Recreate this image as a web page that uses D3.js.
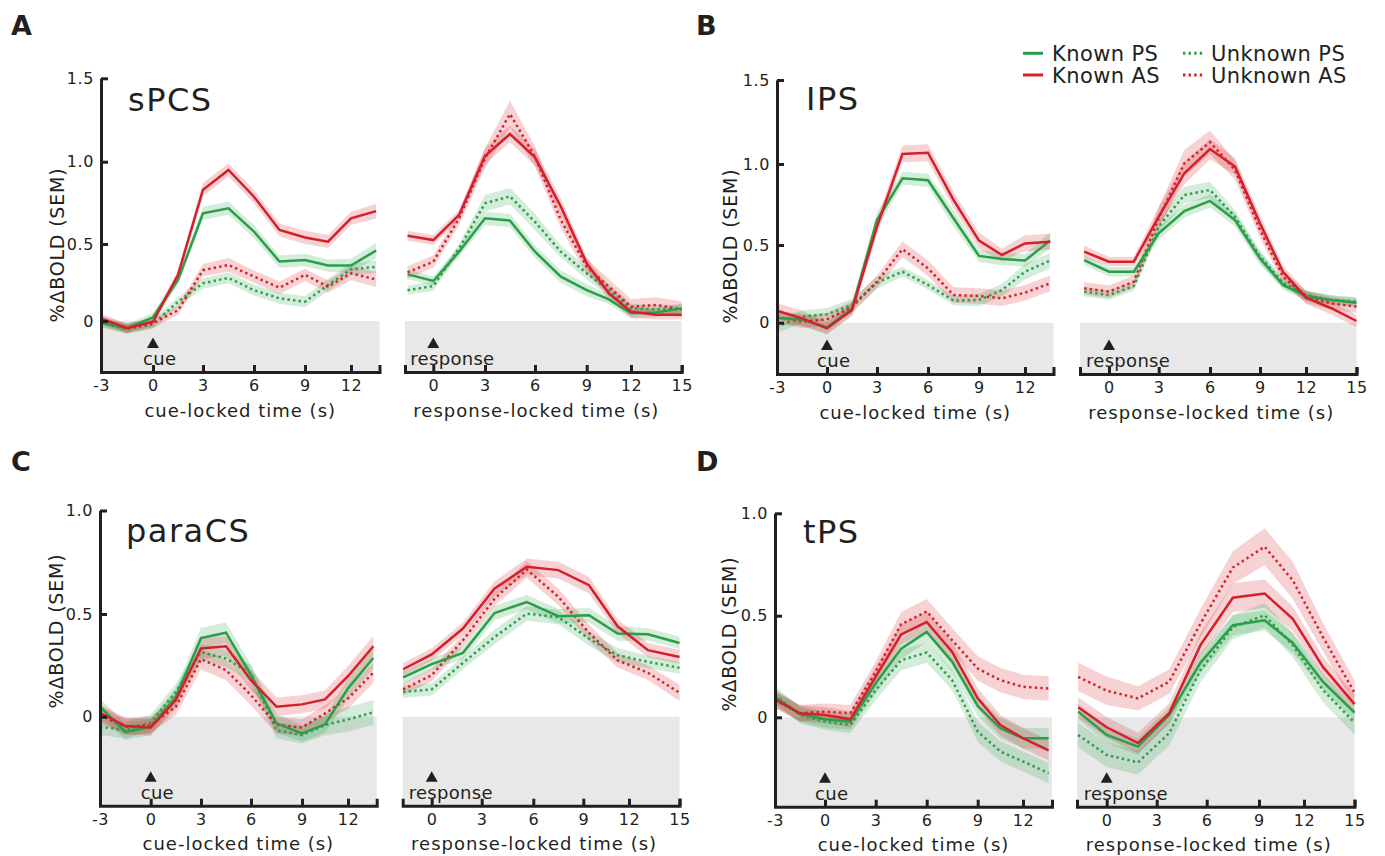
<!DOCTYPE html>
<html><head><meta charset="utf-8">
<script src="https://cdn.jsdelivr.net/npm/d3@7"></script>
<style>
body{margin:0;background:#fff}
svg{display:block}
text{font-family:"DejaVu Sans",Verdana,sans-serif;fill:#231f20}
</style>
</head><body>
<svg id="chart" width="1385" height="856"></svg>
<script>
// ---------- time bases & ticks ----------
const cueTimes   = [-3,-1.5,0,1.5,3,4.5,6,7.5,9,10.5,12,13.5];
const respTimes1 = [-1.5,0,1.5,3,4.5,6,7.5,9,10.5,12,13.5,15];
const respTimes2 = [-1.875,0,1.875,3.75,5.625,7.5,9.375,11.25,13.125,15];
const cueTicks   = [-3,0,3,6,9,12];
const respTicks  = [0,3,6,9,12,15];
const yTicksRow1 = [0,0.5,1.0,1.5];
const yTicksRow2 = [0,0.5,1.0];
const regionNames  = ["sPCS","IPS","paraCS","tPS"];
const panelLetters = ["A","B","C","D"];
const conditionNames = ["Known PS","Known AS","Unknown PS","Unknown AS"];

// ---------- sPCS ----------
const sPCS_cue_KPS = [-0.01,-0.047,0.024,0.266,0.686,0.717,0.575,0.386,0.396,0.36,0.36,0.458];
const sPCS_cue_KAS = [0.017,-0.047,-0.005,0.30,0.83,0.95,0.787,0.585,0.54,0.514,0.656,0.70];
const sPCS_cue_UPS = [-0.01,-0.054,-0.02,0.125,0.245,0.28,0.20,0.147,0.125,0.234,0.335,0.352];
const sPCS_cue_UAS = [0.006,-0.047,-0.015,0.07,0.33,0.364,0.288,0.216,0.30,0.223,0.31,0.27];
const sPCS_cue_KPS_sem = [0.03,0.03,0.03,0.03,0.04,0.04,0.04,0.04,0.04,0.04,0.045,0.05];
const sPCS_cue_KAS_sem = [0.03,0.03,0.03,0.03,0.04,0.04,0.04,0.04,0.04,0.04,0.04,0.045];
const sPCS_cue_UPS_sem = [0.03,0.03,0.03,0.03,0.035,0.035,0.035,0.035,0.035,0.04,0.04,0.04];
const sPCS_cue_UAS_sem = [0.03,0.03,0.03,0.03,0.04,0.045,0.04,0.04,0.04,0.04,0.045,0.05];
const sPCS_resp_KPS = [0.303,0.26,0.45,0.656,0.642,0.45,0.288,0.20,0.14,0.05,0.056,0.082];
const sPCS_resp_KAS = [0.55,0.524,0.677,1.034,1.166,1.026,0.727,0.375,0.18,0.06,0.04,0.04];
const sPCS_resp_UPS = [0.20,0.227,0.472,0.747,0.79,0.634,0.45,0.31,0.20,0.082,0.076,0.076];
const sPCS_resp_UAS = [0.316,0.385,0.656,1.02,1.286,1.03,0.645,0.353,0.223,0.093,0.104,0.076];
const sPCS_resp_KPS_sem = [0.03,0.03,0.03,0.04,0.04,0.04,0.04,0.04,0.03,0.03,0.03,0.03];
const sPCS_resp_KAS_sem = [0.03,0.03,0.03,0.05,0.05,0.05,0.05,0.04,0.04,0.04,0.03,0.03];
const sPCS_resp_UPS_sem = [0.03,0.03,0.03,0.05,0.05,0.05,0.04,0.04,0.04,0.03,0.03,0.03];
const sPCS_resp_UAS_sem = [0.04,0.04,0.04,0.06,0.08,0.06,0.05,0.05,0.05,0.05,0.05,0.05];

// ---------- IPS ----------
const IPS_cue_KPS = [0.03,0.02,-0.03,0.09,0.654,0.912,0.90,0.665,0.43,0.41,0.40,0.527];
const IPS_cue_KAS = [0.077,0.028,-0.036,0.082,0.613,1.06,1.067,0.778,0.527,0.436,0.51,0.52];
const IPS_cue_UPS = [-0.026,0.04,0.054,0.114,0.257,0.328,0.243,0.142,0.146,0.21,0.328,0.40];
const IPS_cue_UAS = [0.04,0.006,0.022,0.10,0.264,0.473,0.35,0.178,0.172,0.157,0.193,0.253];
const IPS_cue_KPS_sem = [0.04,0.04,0.04,0.04,0.05,0.04,0.04,0.05,0.04,0.04,0.04,0.05];
const IPS_cue_KAS_sem = [0.05,0.05,0.04,0.04,0.05,0.05,0.05,0.05,0.05,0.04,0.05,0.05];
const IPS_cue_UPS_sem = [0.04,0.04,0.04,0.04,0.04,0.03,0.03,0.03,0.04,0.04,0.05,0.05];
const IPS_cue_UAS_sem = [0.04,0.04,0.04,0.04,0.04,0.05,0.05,0.05,0.05,0.05,0.05,0.05];
const IPS_resp_KPS = [0.403,0.328,0.328,0.572,0.71,0.772,0.654,0.414,0.243,0.172,0.146,0.129];
const IPS_resp_KAS = [0.457,0.393,0.393,0.675,0.943,1.089,0.984,0.634,0.328,0.161,0.093,0.011];
const IPS_resp_UPS = [0.20,0.178,0.236,0.613,0.809,0.84,0.675,0.425,0.257,0.178,0.146,0.135];
const IPS_resp_UAS = [0.221,0.20,0.264,0.665,1.004,1.13,0.963,0.593,0.296,0.167,0.125,0.103];
const IPS_resp_KPS_sem = [0.03,0.03,0.03,0.04,0.04,0.04,0.04,0.04,0.03,0.03,0.03,0.03];
const IPS_resp_KAS_sem = [0.04,0.03,0.03,0.06,0.07,0.06,0.05,0.05,0.04,0.04,0.04,0.04];
const IPS_resp_UPS_sem = [0.03,0.03,0.03,0.04,0.05,0.05,0.04,0.04,0.03,0.03,0.03,0.03];
const IPS_resp_UAS_sem = [0.04,0.04,0.04,0.07,0.08,0.07,0.06,0.05,0.04,0.04,0.04,0.04];

// ---------- paraCS ----------
const paraCS_cue_KPS = [0.049,-0.073,-0.049,0.097,0.383,0.409,0.202,-0.032,-0.081,-0.037,0.138,0.286];
const paraCS_cue_KAS = [0.019,-0.045,-0.052,0.081,0.332,0.343,0.178,0.049,0.06,0.084,0.197,0.343];
const paraCS_cue_UPS = [-0.049,-0.065,-0.029,0.121,0.314,0.283,0.21,-0.065,-0.089,-0.04,-0.013,0.021];
const paraCS_cue_UAS = [0.008,-0.049,-0.04,0.049,0.28,0.227,0.105,-0.04,-0.052,0.016,0.089,0.214];
const paraCS_cue_KPS_sem = [0.04,0.04,0.04,0.04,0.05,0.05,0.05,0.045,0.04,0.04,0.05,0.05];
const paraCS_cue_KAS_sem = [0.04,0.04,0.04,0.04,0.05,0.05,0.05,0.045,0.045,0.045,0.05,0.05];
const paraCS_cue_UPS_sem = [0.04,0.04,0.04,0.04,0.04,0.04,0.04,0.04,0.04,0.05,0.06,0.06];
const paraCS_cue_UAS_sem = [0.04,0.04,0.04,0.04,0.05,0.05,0.05,0.04,0.04,0.04,0.05,0.05];
const paraCS_resp_KPS = [0.191,0.256,0.311,0.505,0.558,0.489,0.494,0.405,0.401,0.359];
const paraCS_resp_KAS = [0.231,0.303,0.429,0.623,0.728,0.712,0.639,0.44,0.324,0.291];
const paraCS_resp_UPS = [0.121,0.133,0.262,0.388,0.502,0.485,0.38,0.299,0.267,0.238];
const paraCS_resp_UAS = [0.133,0.202,0.372,0.574,0.715,0.583,0.408,0.275,0.214,0.117];
const paraCS_resp_KPS_sem = [0.03,0.03,0.03,0.035,0.035,0.035,0.035,0.035,0.03,0.03];
const paraCS_resp_KAS_sem = [0.03,0.03,0.03,0.035,0.04,0.04,0.04,0.035,0.035,0.035];
const paraCS_resp_UPS_sem = [0.03,0.03,0.03,0.035,0.035,0.035,0.035,0.035,0.03,0.03];
const paraCS_resp_UAS_sem = [0.03,0.03,0.03,0.035,0.04,0.04,0.04,0.035,0.035,0.04];

// ---------- tPS ----------
const tPS_cue_KPS = [0.10,0.016,-0.01,-0.021,0.167,0.338,0.42,0.273,0.056,-0.054,-0.103,-0.103];
const tPS_cue_KAS = [0.088,0.02,0.011,-0.01,0.2,0.408,0.469,0.322,0.093,-0.038,-0.103,-0.163];
const tPS_cue_UPS = [0.109,0.011,-0.021,-0.038,0.134,0.281,0.319,0.183,-0.07,-0.168,-0.217,-0.275];
const tPS_cue_UAS = [0.085,0.02,0.028,0.02,0.224,0.458,0.521,0.379,0.24,0.183,0.15,0.142];
const tPS_cue_KPS_sem = [0.04,0.04,0.04,0.04,0.05,0.05,0.05,0.05,0.05,0.05,0.05,0.05];
const tPS_cue_KAS_sem = [0.04,0.04,0.04,0.04,0.05,0.05,0.05,0.05,0.05,0.05,0.05,0.05];
const tPS_cue_UPS_sem = [0.04,0.04,0.04,0.04,0.05,0.05,0.05,0.05,0.05,0.05,0.05,0.05];
const tPS_cue_UAS_sem = [0.04,0.04,0.04,0.04,0.05,0.06,0.06,0.06,0.06,0.06,0.06,0.06];
const tPS_resp_KPS = [0.028,-0.087,-0.144,0.011,0.268,0.453,0.477,0.366,0.175,0.023];
const tPS_resp_KAS = [0.049,-0.049,-0.127,0.02,0.355,0.588,0.608,0.485,0.248,0.065];
const tPS_resp_UPS = [-0.087,-0.185,-0.222,-0.078,0.232,0.444,0.502,0.355,0.134,-0.026];
const tPS_resp_UAS = [0.199,0.131,0.093,0.175,0.461,0.735,0.837,0.673,0.395,0.121];
const tPS_resp_KPS_sem = [0.04,0.04,0.04,0.04,0.05,0.05,0.05,0.05,0.04,0.04];
const tPS_resp_KAS_sem = [0.05,0.05,0.05,0.05,0.06,0.07,0.07,0.06,0.05,0.05];
const tPS_resp_UPS_sem = [0.06,0.06,0.06,0.06,0.06,0.06,0.06,0.06,0.06,0.06];
const tPS_resp_UAS_sem = [0.07,0.07,0.06,0.06,0.07,0.08,0.09,0.09,0.07,0.06];

// ---------- styling ----------
const GREEN = "#2a9e48", RED = "#d4202a", AXIS = "#231f20", GRAY = "#e8e8e8";
const condStyle = [
  {color:GREEN, dash:null},
  {color:RED,   dash:null},
  {color:GREEN, dash:"2.4,3.2"},
  {color:RED,   dash:"2.4,3.2"}
];

// ---------- layout (pixel anchors of the original figure) ----------
const panels = [
  { letter:panelLetters[0], name:regionNames[0], letterPos:[11,35], namePos:[128,111], yTitle:[64,245],
    y:{d:[-0.33,0,0.5,1,1.5], r:[372,321,244,161.7,78.3]}, yTicks:yTicksRow1,
    cue:{d:[-3,0,3,6,9,12,13.7], r:[101,153,203,254,305,351,379.5]},
    resp:{d:[-1.65,0,3,6,9,12,15], r:[405,433.3,485,535,586.7,631,681.7]},
    respTimes:respTimes1,
    cueSeries:[[sPCS_cue_KPS,sPCS_cue_KPS_sem],[sPCS_cue_KAS,sPCS_cue_KAS_sem],[sPCS_cue_UPS,sPCS_cue_UPS_sem],[sPCS_cue_UAS,sPCS_cue_UAS_sem]],
    respSeries:[[sPCS_resp_KPS,sPCS_resp_KPS_sem],[sPCS_resp_KAS,sPCS_resp_KAS_sem],[sPCS_resp_UPS,sPCS_resp_UPS_sem],[sPCS_resp_UAS,sPCS_resp_UAS_sem]] },
  { letter:panelLetters[1], name:regionNames[1], letterPos:[696,35], namePos:[806,110], yTitle:[737,246],
    y:{d:[-0.33,0,0.5,1,1.5], r:[374,322.7,245,164,80]}, yTicks:yTicksRow1,
    cue:{d:[-3,0,3,6,9,12,13.7], r:[777,827,877,928,979,1025,1053.5]},
    resp:{d:[-1.75,0,3,6,9,12,15], r:[1080,1109,1158.7,1210,1260,1306,1356.5]},
    respTimes:respTimes1,
    cueSeries:[[IPS_cue_KPS,IPS_cue_KPS_sem],[IPS_cue_KAS,IPS_cue_KAS_sem],[IPS_cue_UPS,IPS_cue_UPS_sem],[IPS_cue_UAS,IPS_cue_UAS_sem]],
    respSeries:[[IPS_resp_KPS,IPS_resp_KPS_sem],[IPS_resp_KAS,IPS_resp_KAS_sem],[IPS_resp_UPS,IPS_resp_UPS_sem],[IPS_resp_UAS,IPS_resp_UAS_sem]] },
  { letter:panelLetters[2], name:regionNames[2], letterPos:[11,471], namePos:[126,542], yTitle:[63,631],
    y:{d:[-0.43,0,0.5,1], r:[805.7,716.7,614,510.5]}, yTicks:yTicksRow2,
    cue:{d:[-3,0,3,6,9,12,13.7], r:[100,150.7,201,251,302,348,376.7]},
    resp:{d:[-1.9,0,3,6,9,12,15], r:[402.7,431.7,481.7,533.3,583.3,629,679.5]},
    respTimes:respTimes2,
    cueSeries:[[paraCS_cue_KPS,paraCS_cue_KPS_sem],[paraCS_cue_KAS,paraCS_cue_KAS_sem],[paraCS_cue_UPS,paraCS_cue_UPS_sem],[paraCS_cue_UAS,paraCS_cue_UAS_sem]],
    respSeries:[[paraCS_resp_KPS,paraCS_resp_KPS_sem],[paraCS_resp_KAS,paraCS_resp_KAS_sem],[paraCS_resp_UPS,paraCS_resp_UPS_sem],[paraCS_resp_UAS,paraCS_resp_UAS_sem]] },
  { letter:panelLetters[3], name:regionNames[3], letterPos:[696,471], namePos:[803,543], yTitle:[736,634],
    y:{d:[-0.44,0,0.5,1], r:[806.7,717.3,615.7,513.3]}, yTicks:yTicksRow2,
    cue:{d:[-3,0,3,6,9,12,13.7], r:[775,825,875.7,926.7,977.7,1023,1052]},
    resp:{d:[-1.95,0,3,6,9,12,15], r:[1077,1106.7,1156.7,1206.7,1259,1304,1354.5]},
    respTimes:respTimes2,
    cueSeries:[[tPS_cue_KPS,tPS_cue_KPS_sem],[tPS_cue_KAS,tPS_cue_KAS_sem],[tPS_cue_UPS,tPS_cue_UPS_sem],[tPS_cue_UAS,tPS_cue_UAS_sem]],
    respSeries:[[tPS_resp_KPS,tPS_resp_KPS_sem],[tPS_resp_KAS,tPS_resp_KAS_sem],[tPS_resp_UPS,tPS_resp_UPS_sem],[tPS_resp_UAS,tPS_resp_UAS_sem]] }
];

const svg = d3.select("#chart");
const fmtY = v => v === 0 ? "0" : v.toFixed(1);

function drawSub(p, xs, ys, times, series, ticks, isCue) {
  const g = svg.append("g");
  const [x0, x1] = [xs.range()[0], xs.range()[xs.range().length-1]];
  const yBottom = ys(ys.domain()[0]);
  // gray negative region
  g.append("rect").attr("x", x0).attr("y", ys(0))
    .attr("width", x1 - x0).attr("height", yBottom - ys(0)).attr("fill", GRAY);
  // SEM bands
  series.forEach(([m, s], i) => {
    const pts = times.map((t, k) => ({t, m:m[k], s:s[k]}));
    g.append("path").datum(pts)
      .attr("d", d3.area().x(d => xs(d.t)).y0(d => ys(d.m - d.s)).y1(d => ys(d.m + d.s)))
      .attr("fill", condStyle[i].color).attr("fill-opacity", 0.2).attr("stroke","none");
  });
  // mean lines (solid first, then dotted on top? draw in order unknown, known)
  [2,3,0,1].forEach(i => {
    const [m] = series[i];
    const pts = times.map((t, k) => ({t, m:m[k]}));
    g.append("path").datum(pts)
      .attr("d", d3.line().x(d => xs(d.t)).y(d => ys(d.m)))
      .attr("fill","none").attr("stroke", condStyle[i].color)
      .attr("stroke-width", 2.5)
      .attr("stroke-dasharray", condStyle[i].dash)
      .attr("stroke-linejoin","miter");
  });
  // x axis
  const ax = g.append("g").attr("transform", `translate(0,${yBottom})`)
    .call(d3.axisBottom(xs).tickValues(ticks).tickSizeInner(-7).tickSizeOuter(-7)
      .tickPadding(8).tickFormat(d => String(d)));
  styleAxis(ax);
  // event marker
  const xz = xs(0);
  g.append("path").attr("d", d3.symbol().type(d3.symbolTriangle).size(62)())
    .attr("transform", `translate(${xz},${yBottom - 27.5})`).attr("fill", AXIS);
  g.append("text").attr("x", isCue ? xz - 10 : xz - 23).attr("y", yBottom - 7)
    .attr("font-size", 18).attr("letter-spacing", 0.3)
    .text(isCue ? "cue" : "response");
  // x title
  const cx = isCue ? (x0 + x1) / 2 : (x0 + x1) / 2 - 7;
  g.append("text").attr("x", cx).attr("y", yBottom + 44.5)
    .attr("text-anchor","middle").attr("font-size", 18).attr("letter-spacing", 1)
    .text(isCue ? "cue-locked time (s)" : "response-locked time (s)");
  return g;
}

function styleAxis(ax) {
  ax.select(".domain").attr("stroke", AXIS).attr("stroke-width", 3);
  ax.selectAll(".tick line").attr("stroke", AXIS).attr("stroke-width", 3);
  ax.selectAll(".tick text").attr("font-family", '"DejaVu Sans",Verdana,sans-serif')
    .attr("font-size", 16).attr("fill", AXIS).attr("letter-spacing", 0.6);
}

panels.forEach(p => {
  const ys = d3.scaleLinear().domain(p.y.d).range(p.y.r);
  const xc = d3.scaleLinear().domain(p.cue.d).range(p.cue.r);
  const xr = d3.scaleLinear().domain(p.resp.d).range(p.resp.r);
  drawSub(p, xc, ys, cueTimes, p.cueSeries, cueTicks, true);
  drawSub(p, xr, ys, p.respTimes, p.respSeries, respTicks, false);
  // y axis on the cue-locked plot
  const ay = svg.append("g").attr("transform", `translate(${p.cue.r[0]},0)`)
    .call(d3.axisLeft(ys).tickValues(p.yTicks).tickSizeInner(-7).tickSizeOuter(0)
      .tickPadding(7).tickFormat(fmtY));
  styleAxis(ay);
  // y title
  svg.append("text").attr("transform", `translate(${p.yTitle[0]},${p.yTitle[1]}) rotate(-90)`)
    .attr("text-anchor","middle").attr("font-size", 19).attr("letter-spacing", 0.8)
    .text("%ΔBOLD (SEM)");
  // region name
  svg.append("text").attr("x", p.namePos[0]).attr("y", p.namePos[1])
    .attr("font-size", 32).attr("letter-spacing", 1.5).text(p.name);
  // panel letter
  svg.append("text").attr("x", p.letterPos[0]).attr("y", p.letterPos[1])
    .attr("font-family", '"Liberation Sans",Arial,sans-serif').attr("font-weight","bold")
    .attr("font-size", 27).text(p.letter);
});

// ---------- legend ----------
const legendPos = [[1023,53.3],[1023,75],[1183,53.3],[1183,75]];
conditionNames.forEach((name, i) => {
  const [lx, ly] = legendPos[i];
  svg.append("line").attr("x1", lx).attr("x2", lx + 20).attr("y1", ly).attr("y2", ly)
    .attr("stroke", condStyle[i].color).attr("stroke-width", 3)
    .attr("stroke-dasharray", condStyle[i].dash);
  svg.append("text").attr("x", lx + (i < 2 ? 29 : 28)).attr("y", ly + 7.5)
    .attr("font-size", 21).attr("letter-spacing", 0.4).text(name);
});
</script>
</body></html>
